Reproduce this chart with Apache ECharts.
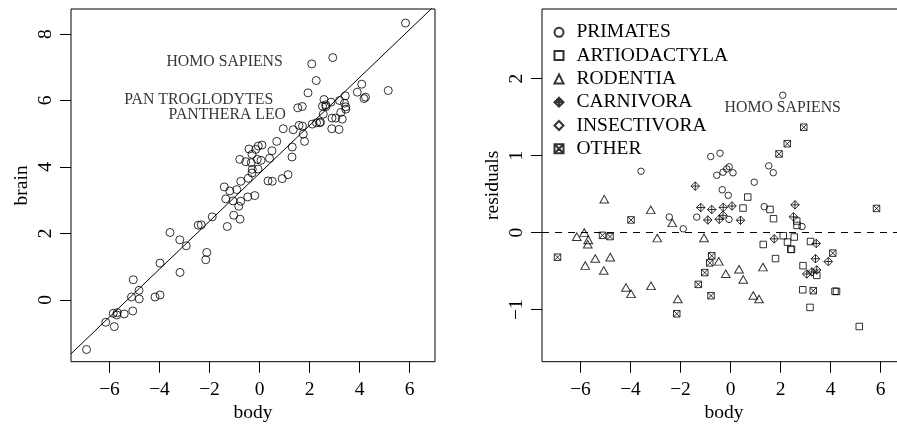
<!DOCTYPE html>
<html>
<head>
<meta charset="utf-8">
<title>brain vs body</title>
<script src="https://cdn.jsdelivr.net/npm/echarts@6/dist/echarts.min.js"></script>
<style>
  html, body { margin: 0; padding: 0; background: #fff; }
  #chart { width: 897px; height: 427px; }
</style>
</head>
<body>
<div id="chart"></div>
<script>
// log body / log brain, one pair of arrays per order
const primatesBody = [2.09, -0.79, -0.42, -3.58, 1.53, 1.71, -0.55, -0.30, -0.15, -0.05, 0.10, 0.95, -0.33, -0.09, -0.06, 1.35, 2.86, -2.45, -1.89, -1.35];
const primatesBrain = [7.10, 4.23, 4.54, 2.03, 5.78, 5.82, 4.16, 4.38, 4.53, 4.63, 4.66, 5.15, 4.13, 4.23, 3.94, 5.12, 5.95, 2.25, 2.50, 3.04];

const artioBody = [0.69, 0.50, 1.58, 1.72, 2.65, 2.66, 2.11, 2.28, 2.55, 2.41, 2.44, 1.31, 1.80, 3.20, 2.90, 3.45, 2.89, 3.18, 4.18, 4.24, 5.15];
const artioBrain = [4.77, 4.49, 5.25, 5.23, 5.87, 5.82, 5.29, 5.33, 5.59, 5.33, 5.35, 4.60, 4.77, 6.00, 5.47, 5.74, 5.15, 5.13, 6.06, 6.10, 6.30];

const rodentBody = [-5.05, -6.15, -5.85, -5.69, -5.71, -5.41, -4.81, -5.81, -5.07, -4.18, -3.98, -3.19, -2.93, -3.18, -2.33, -2.11, -1.06, -0.47, -0.19, 0.34, 0.51, 1.30, 0.91, 1.14];
const rodentBrain = [0.61, -0.67, -0.40, -0.38, -0.45, -0.42, 0.03, -0.80, -0.33, 0.09, 0.15, 1.81, 1.63, 0.83, 2.26, 1.43, 2.98, 3.10, 3.14, 3.58, 3.57, 4.30, 3.65, 3.77];

const carnBody = [-1.41, -1.19, -0.75, -0.29, 0.06, -0.91, -0.45, -0.30, 0.40, 2.58, 2.52, 1.75, 3.43, 3.40, 3.91, 3.05, 3.25, 3.45];
const carnBrain = [3.40, 3.28, 3.57, 3.93, 4.20, 3.32, 3.66, 3.82, 4.26, 6.03, 5.83, 4.99, 6.14, 5.92, 6.25, 5.47, 5.64, 5.81];

const insectBody = [];
const insectBrain = [];

const otherBody = [-6.92, -5.12, -4.82, -3.98, -2.15, -1.29, -1.03, -0.83, -0.75, -0.78, 5.84, 4.09, 3.31, 2.93, 2.27, 1.94];
const otherBrain = [-1.49, 0.09, 0.29, 1.11, 1.21, 2.21, 2.55, 2.82, 2.97, 2.43, 8.33, 6.49, 5.44, 7.29, 6.60, 6.23];

// fitted line brain ~ body
const fitIntercept = 3.81;
const fitSlope = 0.72;

const groupNames = ['PRIMATES', 'ARTIODACTYLA', 'RODENTIA', 'CARNIVORA', 'INSECTIVORA', 'OTHER'];

const bodyTicks = [-6, -4, -2, 0, 2, 4, 6];
const brainTicks = [0, 2, 4, 6, 8];
const residTicks = [-1, 0, 1, 2];

const bodyRange = [-7.54, 7.02];
const brainRange = [-1.856, 8.752];
const residRange = [-1.675, 2.905];

// labelled species
const brainNotes = ['HOMO SAPIENS', 'PAN TROGLODYTES', 'PANTHERA LEO'];
const brainNoteX = [0.93, 0.55, 1.06];
const brainNoteY = [7.17, 6.02, 5.56];
const residNotes = ['HOMO SAPIENS'];
const residNoteX = [2.09];
const residNoteY = [1.615];

const font = 'Liberation Serif';
const black = '#000';
const hollow = { color: 'rgba(0,0,0,0)', borderColor: black, borderWidth: 1 };

const groups = [
  { name: groupNames[0], body: primatesBody, brain: primatesBrain, symbol: 'circle', size: 6.5 },
  { name: groupNames[1], body: artioBody, brain: artioBrain, symbol: 'rect', size: 6.5 },
  { name: groupNames[2], body: rodentBody, brain: rodentBrain, symbol: 'triangle', size: [8.7, 7.6] },
  { name: groupNames[3], body: carnBody, brain: carnBrain, symbol: 'path://M5,0 L10,5 L5,10 L0,5 Z M5,0 L5,10 M0,5 L10,5', size: 8.5 },
  { name: groupNames[4], body: insectBody, brain: insectBrain, symbol: 'path://M5,0 L10,5 L5,10 L0,5 Z', size: 8.5 },
  { name: groupNames[5], body: otherBody, brain: otherBrain, symbol: 'path://M0,0 L10,0 L10,10 L0,10 Z M0,0 L10,10 M10,0 L0,10', size: 6.5 },
];

function fitted(b) {
  return fitIntercept + fitSlope * b;
}

function minusSign(v) {
  return v < 0 ? '\u2212' + Math.abs(v) : String(v);
}

const textBase = { fontFamily: font, fontSize: 19.5, color: black };

function xAxisFor(gridIndex) {
  return {
    gridIndex: gridIndex,
    type: 'value',
    min: bodyRange[0],
    max: bodyRange[1],
    axisLine: { show: false, onZero: false },
    splitLine: { show: false },
    axisTick: { show: true, inside: false, length: 11, customValues: bodyTicks, lineStyle: { color: black, width: 1 } },
    axisLabel: Object.assign({ customValues: bodyTicks, margin: 18.5, formatter: minusSign }, textBase),
    name: 'body',
    nameLocation: 'middle',
    nameGap: 41.5,
    nameMoveOverlap: false,
    nameTextStyle: textBase,
  };
}

function yAxisFor(gridIndex, range, ticks, title) {
  return {
    gridIndex: gridIndex,
    type: 'value',
    min: range[0],
    max: range[1],
    axisLine: { show: false, onZero: false },
    splitLine: { show: false },
    axisTick: { show: true, inside: false, length: 11, customValues: ticks, lineStyle: { color: black, width: 1 } },
    axisLabel: Object.assign({ customValues: ticks, margin: 15, rotate: 90, formatter: minusSign }, textBase),
    name: title,
    nameLocation: 'middle',
    nameGap: 39,
    nameMoveOverlap: false,
    nameTextStyle: textBase,
  };
}

function noteSeries(axisIndex, texts, xs, ys, align) {
  return {
    type: 'scatter',
    xAxisIndex: axisIndex,
    yAxisIndex: axisIndex,
    symbolSize: 0,
    silent: true,
    z: 5,
    data: texts.map((t, i) => ({ name: t, value: [xs[i], ys[i]] })),
    label: {
      show: true,
      formatter: '{b}',
      position: 'inside',
      align: align,
      verticalAlign: 'middle',
      fontFamily: font,
      fontSize: 15.8,
      color: black,
    },
  };
}

const allPoints = [];
groups.forEach((g) => {
  g.body.forEach((b, i) => allPoints.push([b, g.brain[i]]));
});

const residSeries = groups.map((g) => ({
  name: g.name,
  type: 'scatter',
  xAxisIndex: 1,
  yAxisIndex: 1,
  symbol: g.symbol,
  symbolSize: g.size,
  itemStyle: hollow,
  data: g.body.map((b, i) => [b, +(g.brain[i] - fitted(b)).toFixed(3)]),
}));

// zero reference line on the residual panel
residSeries[0].markLine = {
  silent: true,
  symbol: ['none', 'none'],
  label: { show: false },
  lineStyle: { color: black, width: 1, type: [7, 6] },
  data: [{ yAxis: 0 }],
};

const chart = echarts.init(document.getElementById('chart'), null, { renderer: 'canvas' });
chart.setOption({
  animation: false,
  backgroundColor: '#fff',
  grid: [
    { left: 71, top: 9, width: 364, height: 352.7, show: true, borderColor: black, borderWidth: 1, backgroundColor: 'rgba(0,0,0,0)', outerBoundsMode: 'none' },
    { left: 542, top: 9, width: 364, height: 352.7, show: true, borderColor: black, borderWidth: 1, backgroundColor: 'rgba(0,0,0,0)', outerBoundsMode: 'none' },
  ],
  xAxis: [xAxisFor(0), xAxisFor(1)],
  yAxis: [
    yAxisFor(0, brainRange, brainTicks, 'brain'),
    yAxisFor(1, residRange, residTicks, 'residuals'),
  ],
  legend: {
    data: groupNames,
    orient: 'vertical',
    left: 553.5,
    top: 22.3,
    padding: 0,
    itemWidth: 9,
    itemHeight: 9,
    itemGap: 3.3,
    selectedMode: false,
    textStyle: Object.assign({ lineHeight: 20, padding: [0, 0, 0, 8] }, textBase),
  },
  series: [
    {
      name: 'brain',
      type: 'scatter',
      xAxisIndex: 0,
      yAxisIndex: 0,
      symbol: 'circle',
      symbolSize: 8,
      itemStyle: hollow,
      data: allPoints,
    },
    {
      name: 'fit',
      type: 'line',
      xAxisIndex: 0,
      yAxisIndex: 0,
      showSymbol: false,
      clip: true,
      silent: true,
      lineStyle: { color: black, width: 1 },
      data: [
        [bodyRange[0], fitted(bodyRange[0])],
        [bodyRange[1], fitted(bodyRange[1])],
      ],
    },
    noteSeries(0, brainNotes, brainNoteX, brainNoteY, 'right'),
    ...residSeries,
    noteSeries(1, residNotes, residNoteX, residNoteY, 'center'),
  ],
});
</script>
</body>
</html>
